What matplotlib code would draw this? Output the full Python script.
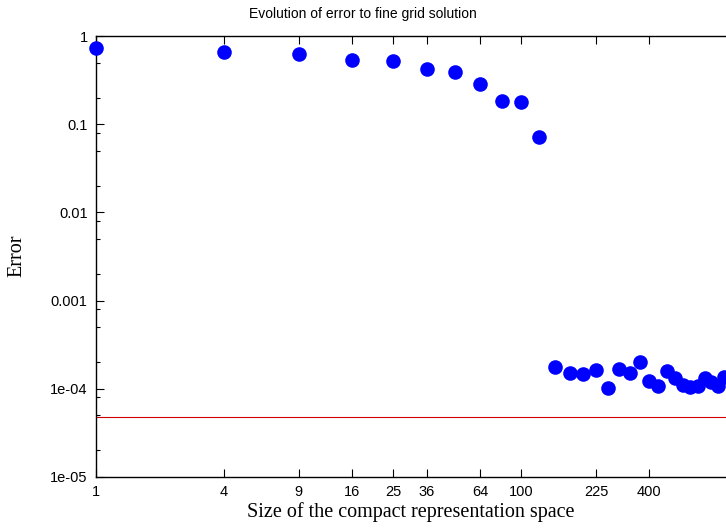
"""
Error of the compact representation vs. fine grid solution (log-log).
"""
import matplotlib
matplotlib.use("Agg")
import matplotlib.pyplot as plt
from matplotlib.ticker import FixedLocator, FixedFormatter, LogLocator, NullFormatter

# size of the compact space (n^2, n = 1..30)
sizes = [1, 4, 9, 16, 25, 36, 49, 64, 81, 100, 121, 144, 169, 196, 225, 256,
         289, 324, 361, 400, 441, 484, 529, 576, 625, 676, 729, 784, 841, 900]
errors = [0.73, 0.66, 0.62, 0.54, 0.525, 0.42, 0.39, 0.286, 0.185, 0.18, 0.071,
          1.78e-4, 1.52e-4, 1.47e-4, 1.63e-4, 1.03e-4, 1.66e-4, 1.52e-4, 2.0e-4,
          1.24e-4, 1.08e-4, 1.59e-4, 1.34e-4, 1.10e-4, 1.06e-4, 1.08e-4,
          1.32e-4, 1.20e-4, 1.08e-4, 1.35e-4]
ref_level = 4.75e-5

xticks = [1, 4, 9, 16, 25, 36, 64, 100, 225, 400]
yticks = [1e-5, 1e-4, 1e-3, 1e-2, 1e-1, 1]
ytick_labels = ["1e-05", "1e-04", "0.001", "0.01", "0.1", "1"]

SANS = ["Liberation Sans", "DejaVu Sans"]
SERIF = ["Liberation Serif", "DejaVu Serif"]

fig = plt.figure(figsize=(7.26, 5.30), dpi=100)
ax = fig.add_axes([96 / 726, 53 / 530, 630 / 726, 441 / 530])

ax.set_xscale("log")
ax.set_yscale("log")
ax.set_xlim(1, 919)
ax.set_ylim(1e-5, 1)

ax.axhline(ref_level, color="#d00000", lw=0.8, zorder=1)
ax.plot(sizes, errors, "o", color="#0000ff", markersize=10.5,
        markeredgewidth=0, clip_on=False, zorder=3)

ax.xaxis.set_major_locator(FixedLocator(xticks))
ax.xaxis.set_major_formatter(FixedFormatter([str(v) for v in xticks]))
ax.xaxis.set_minor_locator(FixedLocator([]))
ax.yaxis.set_major_locator(FixedLocator(yticks))
ax.yaxis.set_major_formatter(FixedFormatter(ytick_labels))
ax.yaxis.set_minor_locator(LogLocator(base=10, subs=(2, 5, 8)))
ax.yaxis.set_minor_formatter(NullFormatter())

ax.tick_params(which="both", direction="in", top=True, right=False,
               labelsize=10.5, width=0.8, colors="black")
ax.tick_params(which="major", length=6, pad=6)
ax.tick_params(which="minor", length=3)
for lab in ax.get_xticklabels() + ax.get_yticklabels():
    lab.set_family(SANS)

ax.spines["right"].set_visible(False)
for s in ("left", "bottom", "top"):
    ax.spines[s].set_linewidth(1.0)

fig.text(411 / 726, 1 - 512 / 530, "Size of the compact representation space",
         ha="center", va="center", family=SERIF, fontsize=14.5)
fig.text(17 / 726, 1 - 256 / 530, "Error", ha="center", va="center",
         rotation=90, family=SERIF, fontsize=14.5)
fig.text(363 / 726, 1 - 14 / 530, "Evolution of error to fine grid solution",
         ha="center", va="center", fontsize=10, family=SANS)

fig.savefig("out.png", dpi=100)
